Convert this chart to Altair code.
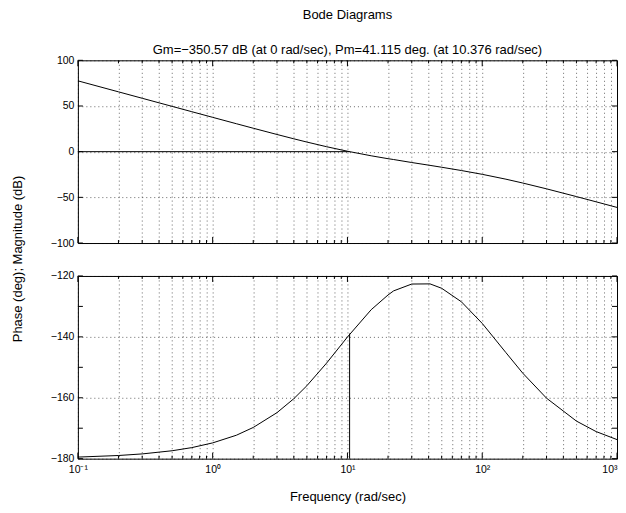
import altair as alt
import pandas as pd

# ---- data ----
freq = [0.1, 0.2, 0.3, 0.5, 0.7, 1, 1.5, 2, 3, 4, 5, 7, 10, 15, 20, 22, 30, 41,
        50, 70, 100, 150, 200, 300, 500, 700, 1000]
mag_db = [77.54, 65.50, 58.46, 49.59, 43.76, 37.59, 30.59, 25.67, 18.82, 14.09,
          10.53, 5.43, 0.48, -4.51, -7.69, -8.60, -11.88, -15.0, -17.05, -20.63,
          -24.79, -30.13, -34.33, -40.68, -49.16, -54.89, -61.02]
phase_deg = [-179.48, -178.96, -178.44, -177.40, -176.37, -174.82, -172.3, -169.75,
             -164.89, -160.31, -156.05, -148.62, -140.05, -131.08, -126.25, -124.9,
             -122.65, -122.6, -124.04, -128.47, -135.58, -145.19, -151.93, -160.13,
             -167.66, -171.1, -173.74]

wc = 10.376          # crossover frequency (rad/sec)
pm_phase = -138.885  # phase at crossover (-180 + Pm)

x_major = [0.1, 1, 10, 100, 1000]
x_labels = ["10\u207b\u00b9", "10\u2070", "10\u00b9", "10\u00b2", "10\u00b3"]
x_minor = [0.2, 0.3, 0.4, 0.5, 0.6, 0.7, 0.8, 0.9,
           2, 3, 4, 5, 6, 7, 8, 9,
           20, 30, 40, 50, 60, 70, 80, 90,
           200, 300, 400, 500, 600, 700, 800, 900]
x_all = sorted(x_major + x_minor)
mag_ticks = [-100, -50, 0, 50, 100]
phase_ticks = [-180, -170, -160, -150, -140, -130, -120]

title_main = "Bode Diagrams"
title_sub = "Gm=\u2212350.57 dB (at 0 rad/sec), Pm=41.115 deg. (at 10.376 rad/sec)"
y_title = "Phase (deg); Magnitude (dB)"
x_title = "Frequency (rad/sec)"

W, H = 540, 183
FONT = "Liberation Sans"
LBL = 10.5
TTL = 13

df = pd.DataFrame({"freq": freq, "mag": mag_db, "phase": phase_deg})
df_major = pd.DataFrame({"f": x_major})
df_minor = pd.DataFrame({"f": x_minor})

xscale = alt.Scale(type="log", domain=[0.1, 1000], nice=False)

label_expr = " : ".join(
    f"datum.value == {v} ? '{t}'" for v, t in zip(x_major, x_labels)
) + " : ''"


def x_axis(show_labels, title=None):
    kw = dict(values=x_all, grid=True, ticks=False, domain=False, labels=show_labels)
    if show_labels:
        kw.update(labelExpr=label_expr, labelPadding=6, labelFontSize=LBL,
                  labelAlign={"condition": {"test": f"datum.value >= {x_major[-1]}",
                                            "value": "right"},
                              "value": "center"},
                  title=title, titleFontSize=TTL, titleFontWeight="normal",
                  titlePadding=15, labelFlush=False, labelOverlap=False)
    else:
        kw.update(title=None)
    return alt.Axis(**kw)


def tick_layers(ydomain, yticks):
    ys = alt.Scale(domain=ydomain, nice=False)
    layers = []
    for d, ln in ((df_major, 6), (df_minor, 3)):
        xe = alt.X("f:Q", scale=xscale)
        layers.append(alt.Chart(d).mark_rule(color="black", strokeWidth=1).encode(
            x=xe, y=alt.value(0), y2=alt.value(ln)))
        layers.append(alt.Chart(d).mark_rule(color="black", strokeWidth=1).encode(
            x=xe, y=alt.value(H), y2=alt.value(H - ln)))
    dy = pd.DataFrame({"v": yticks})
    ye = alt.Y("v:Q", scale=ys)
    layers.append(alt.Chart(dy).mark_rule(color="black", strokeWidth=1).encode(
        y=ye, x=alt.value(0), x2=alt.value(5)))
    layers.append(alt.Chart(dy).mark_rule(color="black", strokeWidth=1).encode(
        y=ye, x=alt.value(W), x2=alt.value(W - 5)))
    return layers


# ---- magnitude panel ----
mag_scale = alt.Scale(domain=[-100, 100], nice=False)
mag_line = alt.Chart(df).mark_line(color="black", strokeWidth=1, clip=True).encode(
    x=alt.X("freq:Q", scale=xscale, axis=x_axis(False)),
    y=alt.Y("mag:Q", scale=mag_scale,
            axis=alt.Axis(values=mag_ticks, grid=True, ticks=False, domain=False,
                          title=None, labelFontSize=LBL, labelPadding=4,
                          labelOverlap=False)),
)
zero_df = pd.DataFrame({"x": [0.1], "x2": [wc], "y": [0]})
zero_rule = alt.Chart(zero_df).mark_rule(color="black", strokeWidth=1).encode(
    x=alt.X("x:Q", scale=xscale), x2="x2:Q", y=alt.Y("y:Q", scale=mag_scale))
ytitle_df = pd.DataFrame({"t": [y_title]})
ytitle = alt.Chart(ytitle_df).mark_text(
    angle=270, font=FONT, fontSize=TTL, align="center", baseline="middle",
    color="black").encode(text="t:N", x=alt.value(-60), y=alt.value(H + 16))

top = alt.layer(
    mag_line, zero_rule, *tick_layers([-100, 100], mag_ticks), ytitle
).properties(
    width=W, height=H,
    title=alt.TitleParams(text=title_main, subtitle=title_sub, anchor="middle",
                          frame="group", fontSize=TTL, fontWeight="normal",
                          subtitleFontSize=TTL, subtitlePadding=22, offset=-2,
                          font=FONT, subtitleFont=FONT, color="black",
                          subtitleColor="black"),
)

# ---- phase panel ----
ph_scale = alt.Scale(domain=[-180, -120], nice=False)
ph_line = alt.Chart(df).mark_line(color="black", strokeWidth=1, clip=True).encode(
    x=alt.X("freq:Q", scale=xscale, axis=x_axis(True, x_title)),
    y=alt.Y("phase:Q", scale=ph_scale,
            axis=alt.Axis(values=phase_ticks, grid=True, ticks=False, domain=False,
                          title=None, labelFontSize=LBL, labelPadding=4,
                          labelOverlap=False)),
)
pm_df = pd.DataFrame({"x": [wc], "y": [-180], "y2": [pm_phase]})
pm_rule = alt.Chart(pm_df).mark_rule(color="black", strokeWidth=1).encode(
    x=alt.X("x:Q", scale=xscale), y=alt.Y("y:Q", scale=ph_scale), y2="y2:Q")

bottom = alt.layer(
    ph_line, pm_rule, *tick_layers([-180, -120], phase_ticks)
).properties(width=W, height=H)

chart = alt.vconcat(top, bottom, spacing=33, bounds="flush").properties(
    padding={"left": 3, "top": 0, "right": 0, "bottom": 0}
).configure(font=FONT, background="white").configure_view(
    stroke="black", strokeWidth=1
).configure_axis(
    gridDash=[1, 3], gridColor="#000000", gridOpacity=0.75, gridWidth=0.8,
    labelColor="black", titleColor="black", labelFont=FONT, titleFont=FONT,
)

chart.save("out.html", embed_options={"renderer": "svg", "actions": False})
